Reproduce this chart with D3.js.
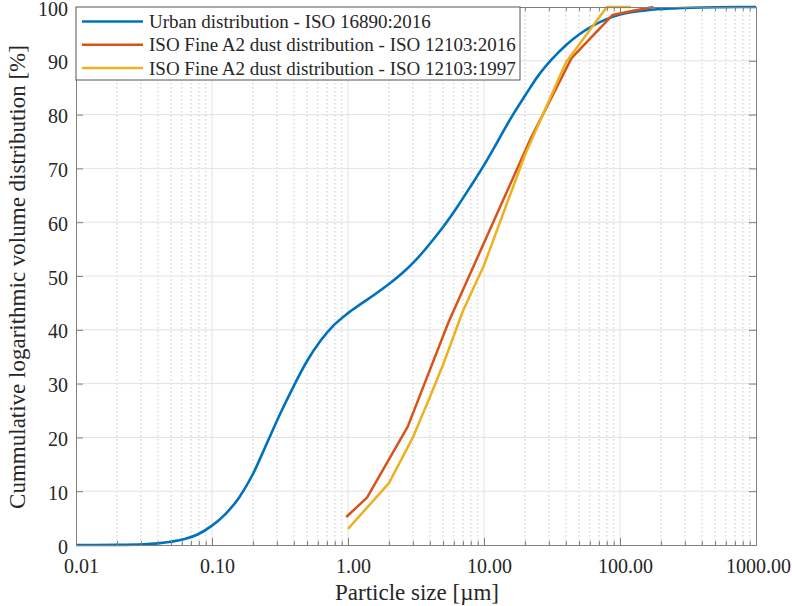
<!DOCTYPE html>
<html>
<head>
<meta charset="utf-8">
<script src="https://cdn.jsdelivr.net/npm/d3@7"></script>
<style>
  body { margin: 0; background: #fff; }
  text { font-family: "Liberation Serif", "Times New Roman", serif; }
</style>
</head>
<body>
<div id="graphe"></div>
<script>
//----------------------------------------------------------------
// data
//----------------------------------------------------------------
var urbanSize = [0.01, 0.02, 0.0316, 0.04, 0.05, 0.063, 0.079, 0.1, 0.126, 0.158, 0.2, 0.25, 0.316, 0.398,
                 0.5, 0.63, 0.79, 1.0, 1.26, 1.58, 2.0, 2.5, 3.16, 4.0, 5.0, 6.3, 7.9, 10, 12.6, 15.8,
                 20, 25, 31.6, 40, 50, 63, 79, 100, 158, 251, 500, 1000];
var urbanCum  = [0, 0.02, 0.12, 0.3, 0.6, 1.1, 2.0, 3.6, 5.8, 8.8, 13.2, 18.6, 24.3, 29.5,
                 34.2, 38.0, 40.9, 43.1, 44.9, 46.6, 48.5, 50.5, 53.0, 56.0, 59.1, 62.7, 66.5, 70.6, 75.0, 79.4,
                 83.5, 87.2, 90.3, 92.9, 94.9, 96.5, 97.7, 98.6, 99.4, 99.75, 99.95, 100];

var a2016Size = [0.97, 1.38, 2.75, 5.5, 11, 22, 44, 88, 124.5, 176];
var a2016Cum  = [5.2, 8.8, 22, 41.5, 58.5, 75.5, 90.5, 98.5, 99.3, 100];

var a1997Size = [1, 2, 3, 4, 5, 7, 10, 20, 40, 80, 120];
var a1997Cum  = [3, 11.5, 20, 27.5, 33.5, 43.5, 52, 72.5, 89.7, 100, 100];

var seriesNames  = ["Urban distribution - ISO 16890:2016",
                    "ISO Fine A2 dust distribution - ISO 12103:2016",
                    "ISO Fine A2 dust distribution - ISO 12103:1997"];
var seriesColors = ["#0072BD", "#D95319", "#EDB120"];

var xTickValues = [0.01, 0.1, 1, 10, 100, 1000];
var xTickLabels = ["0.01", "0.10", "1.00", "10.00", "100.00", "1000.00"];
var yTickValues = [0, 10, 20, 30, 40, 50, 60, 70, 80, 90, 100];

//----------------------------------------------------------------
// svg + scales
//----------------------------------------------------------------
var largeur = 792, hauteur = 606;
var gauche = 76, droite = 756, haut = 7, bas = 545;

var svg = d3.select("#graphe")
  .append("svg")
  .attr("width", largeur)
  .attr("height", hauteur);

var x = d3.scaleLog().domain([0.01, 1000]).range([gauche, droite]);
var y = d3.scaleLinear().domain([0, 100]).range([bas, haut]);

var minors = [];
for (var d = -2; d < 3; d++) {
  for (var k = 2; k <= 9; k++) minors.push(k * Math.pow(10, d));
}

//----------------------------------------------------------------
// grid
//----------------------------------------------------------------
var grille = svg.append("g");
grille.selectAll(".minx")
  .data(minors)
  .enter().append("line")
  .attr("x1", function(d){ return x(d); })
  .attr("x2", function(d){ return x(d); })
  .attr("y1", haut).attr("y2", bas)
  .attr("stroke", "#c8c8c8")
  .attr("stroke-width", 1)
  .attr("stroke-dasharray", "1.5,2.5");
grille.selectAll(".majx")
  .data(xTickValues.slice(1, -1))
  .enter().append("line")
  .attr("x1", function(d){ return x(d); })
  .attr("x2", function(d){ return x(d); })
  .attr("y1", haut).attr("y2", bas)
  .attr("stroke", "#e2e2e2")
  .attr("stroke-width", 1);
grille.selectAll(".majy")
  .data(yTickValues.slice(1, -1))
  .enter().append("line")
  .attr("x1", gauche).attr("x2", droite)
  .attr("y1", function(d){ return y(d); })
  .attr("y2", function(d){ return y(d); })
  .attr("stroke", "#e2e2e2")
  .attr("stroke-width", 1);

//----------------------------------------------------------------
// series
//----------------------------------------------------------------
var courbe = d3.line()
  .x(function(d){ return x(d[0]); })
  .y(function(d){ return y(d[1]); });

svg.append("path")
  .datum(d3.zip(urbanSize, urbanCum))
  .attr("fill", "none")
  .attr("stroke", seriesColors[0])
  .attr("stroke-width", 2.6)
  .attr("d", courbe.curve(d3.curveMonotoneX));

svg.append("path")
  .datum(d3.zip(a2016Size, a2016Cum))
  .attr("fill", "none")
  .attr("stroke", seriesColors[1])
  .attr("stroke-width", 2.5)
  .attr("stroke-linejoin", "round")
  .attr("d", courbe.curve(d3.curveLinear));

svg.append("path")
  .datum(d3.zip(a1997Size, a1997Cum))
  .attr("fill", "none")
  .attr("stroke", seriesColors[2])
  .attr("stroke-width", 2.5)
  .attr("stroke-linejoin", "round")
  .attr("d", courbe.curve(d3.curveLinear));

//----------------------------------------------------------------
// axes (ticks inside, box on)
//----------------------------------------------------------------
function styleAxe(g) {
  g.select(".domain").attr("stroke", "#808080");
  g.selectAll(".tick line").attr("stroke", "#808080");
  g.selectAll("text").attr("fill", "#262626").attr("font-size", "20px")
    .attr("font-family", "Liberation Serif, serif");
}

svg.append("g")
  .attr("transform", "translate(0," + bas + ")")
  .call(d3.axisBottom(x).tickValues(minors).tickSize(-4).tickFormat("").tickSizeOuter(0))
  .call(styleAxe);
svg.append("g")
  .attr("transform", "translate(0," + haut + ")")
  .call(d3.axisTop(x).tickValues(minors).tickSize(-4).tickFormat("").tickSizeOuter(0))
  .call(styleAxe);

svg.append("g")
  .attr("transform", "translate(0," + bas + ")")
  .call(d3.axisBottom(x).tickValues(xTickValues).tickSize(-7).tickSizeOuter(0).tickPadding(14)
    .tickFormat(function(d, i){ return xTickLabels[i]; }))
  .call(styleAxe)
  .selectAll("text").attr("dx", function(d, i){ return i == xTickLabels.length - 1 ? 2 : 5; });
svg.append("g")
  .attr("transform", "translate(0," + haut + ")")
  .call(d3.axisTop(x).tickValues(xTickValues).tickSize(-7).tickSizeOuter(0).tickFormat(""))
  .call(styleAxe);

svg.append("g")
  .attr("transform", "translate(" + gauche + ",0)")
  .call(d3.axisLeft(y).tickValues(yTickValues).tickSize(-7).tickSizeOuter(0).tickPadding(8))
  .call(styleAxe)
  .selectAll("text").attr("dy", "0.4em");
svg.append("g")
  .attr("transform", "translate(" + droite + ",0)")
  .call(d3.axisRight(y).tickValues(yTickValues).tickSize(-7).tickSizeOuter(0).tickFormat(""))
  .call(styleAxe);

// labels des axes
svg.append("text")
  .attr("x", 417).attr("y", 600)
  .attr("text-anchor", "middle")
  .attr("font-size", "23px")
  .attr("fill", "#262626")
  .text("Particle size [µm]");
svg.append("text")
  .attr("transform", "translate(25,277) rotate(-90)")
  .attr("text-anchor", "middle")
  .attr("font-size", "23px")
  .attr("fill", "#262626")
  .text("Cummulative logarithmic volume distribution [%]");

//----------------------------------------------------------------
// legend
//----------------------------------------------------------------
var legende = svg.append("g");
legende.append("rect")
  .attr("x", gauche).attr("y", haut)
  .attr("width", 444).attr("height", 73)
  .attr("fill", "#fff")
  .attr("stroke", "#555")
  .attr("stroke-width", 1);
var rangs = legende.selectAll(".rang")
  .data(seriesNames)
  .enter().append("g")
  .attr("transform", function(d, i){ return "translate(0," + (21.5 + i * 23.3) + ")"; });
rangs.append("line")
  .attr("x1", 82).attr("x2", 143)
  .attr("stroke", function(d, i){ return seriesColors[i]; })
  .attr("stroke-width", 2.5);
rangs.append("text")
  .attr("x", 149).attr("dy", "0.35em")
  .attr("font-size", "19px")
  .attr("fill", "#262626")
  .text(function(d){ return d; });
</script>
</body>
</html>
